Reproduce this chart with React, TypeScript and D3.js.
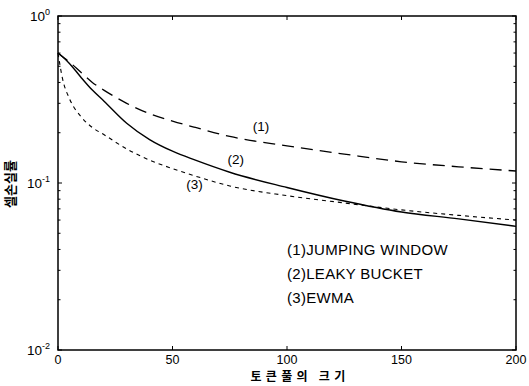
import React from 'react';
import * as d3 from 'd3';

// token pool size (x) and cell loss rate per policing mechanism
const poolSizes = [0, 2, 5, 10, 15, 20, 30, 40, 50, 60, 75, 100, 125, 150, 175, 200];
const jumpingWindow = [0.6, 0.57, 0.53, 0.46, 0.4, 0.36, 0.3, 0.26, 0.235, 0.215, 0.19, 0.167, 0.149, 0.134, 0.125, 0.118];
const leakyBucket = [0.6, 0.57, 0.52, 0.43, 0.36, 0.31, 0.228, 0.182, 0.155, 0.137, 0.116, 0.094, 0.078, 0.067, 0.061, 0.055];
const ewma = [0.6, 0.42, 0.32, 0.25, 0.215, 0.195, 0.16, 0.137, 0.122, 0.11, 0.096, 0.084, 0.076, 0.069, 0.064, 0.06];

const xTicks = [0, 50, 100, 150, 200];
const yTicks = [1, 0.1, 0.01];
const yExps = ['0', '-1', '-2'];
const legendLines = ['(1)JUMPING WINDOW', '(2)LEAKY BUCKET', '(3)EWMA'];

const W = 529;
const H = 386;
const m = { left: 58, right: 13, top: 16, bottom: 36 };
const font = '"Liberation Sans", Arial, sans-serif';
const krFont = '"Noto Sans CJK KR", sans-serif';

export default function App() {
  const x = d3.scaleLinear().domain([0, 200]).range([m.left, W - m.right]);
  const y = d3.scaleLog().domain([0.01, 1]).range([H - m.bottom, m.top]);

  const line = d3
    .line<number>()
    .x((_, i) => x(poolSizes[i]))
    .y(d => y(d))
    .curve(d3.curveMonotoneX);

  // log minor ticks 2..9 per decade
  const minor: number[] = [];
  [0.01, 0.1].forEach(dec => {
    for (let k = 2; k <= 9; k++) minor.push(dec * k);
  });

  const x0 = x(0), x1 = x(200), y0 = y(0.01), y1 = y(1);

  return (
    <svg width={W} height={H} style={{ position: 'absolute', left: 0, top: 0, background: '#fff' }} fontFamily={font}>
      {/* curves */}
      <path d={line(jumpingWindow) || ''} fill="none" stroke="#000" strokeWidth={1.3} strokeDasharray="12,7" />
      <path d={line(leakyBucket) || ''} fill="none" stroke="#000" strokeWidth={1.4} />
      <path d={line(ewma) || ''} fill="none" stroke="#000" strokeWidth={1.1} strokeDasharray="4,4" />

      {/* frame */}
      <rect x={x0} y={y1} width={x1 - x0} height={y0 - y1} fill="none" stroke="#000" strokeWidth={1.5} />

      {/* x ticks */}
      {xTicks.map(t => (
        <g key={'x' + t}>
          <line x1={x(t)} x2={x(t)} y1={y0} y2={y0 - 4} stroke="#000" />
          <line x1={x(t)} x2={x(t)} y1={y1} y2={y1 + 4} stroke="#000" />
          <text x={x(t)} y={y0 + 14} textAnchor="middle" fontSize={12.5}>{t}</text>
        </g>
      ))}

      {/* y ticks */}
      {yTicks.map((t, i) => (
        <g key={'y' + t}>
          <line x1={x0} x2={x0 + 4} y1={y(t)} y2={y(t)} stroke="#000" />
          <line x1={x1} x2={x1 - 4} y1={y(t)} y2={y(t)} stroke="#000" />
          <text x={x0 - 8} y={y(t) + 5} textAnchor="end" fontSize={13.5}>
            10<tspan fontSize={9} dy={-6}>{yExps[i]}</tspan>
          </text>
        </g>
      ))}
      {minor.map(t => (
        <g key={'m' + t}>
          <line x1={x0} x2={x0 + 2.5} y1={y(t)} y2={y(t)} stroke="#000" />
          <line x1={x1} x2={x1 - 2.5} y1={y(t)} y2={y(t)} stroke="#000" />
        </g>
      ))}

      {/* curve labels */}
      <text x={x(85)} y={y(0.205)} fontSize={13.5}>(1)</text>
      <text x={x(74)} y={y(0.13)} fontSize={13.5}>(2)</text>
      <text x={x(56)} y={y(0.092)} fontSize={13.5}>(3)</text>

      {/* legend text */}
      {legendLines.map((s, i) => (
        <text key={s} x={287} y={255 + i * 24} fontSize={15} letterSpacing={0.3}>{s}</text>
      ))}

      {/* axis titles */}
      <text x={300} y={381} textAnchor="middle" fontSize={12} fontWeight="bold" letterSpacing={4.3} fontFamily={krFont}>
        토큰풀의 크기
      </text>
      <text
        transform={`translate(15,${184}) rotate(-90)`}
        textAnchor="middle"
        fontSize={13}
        fontWeight="bold"
        fontFamily={krFont}
      >
        셀손실률
      </text>
    </svg>
  );
}
